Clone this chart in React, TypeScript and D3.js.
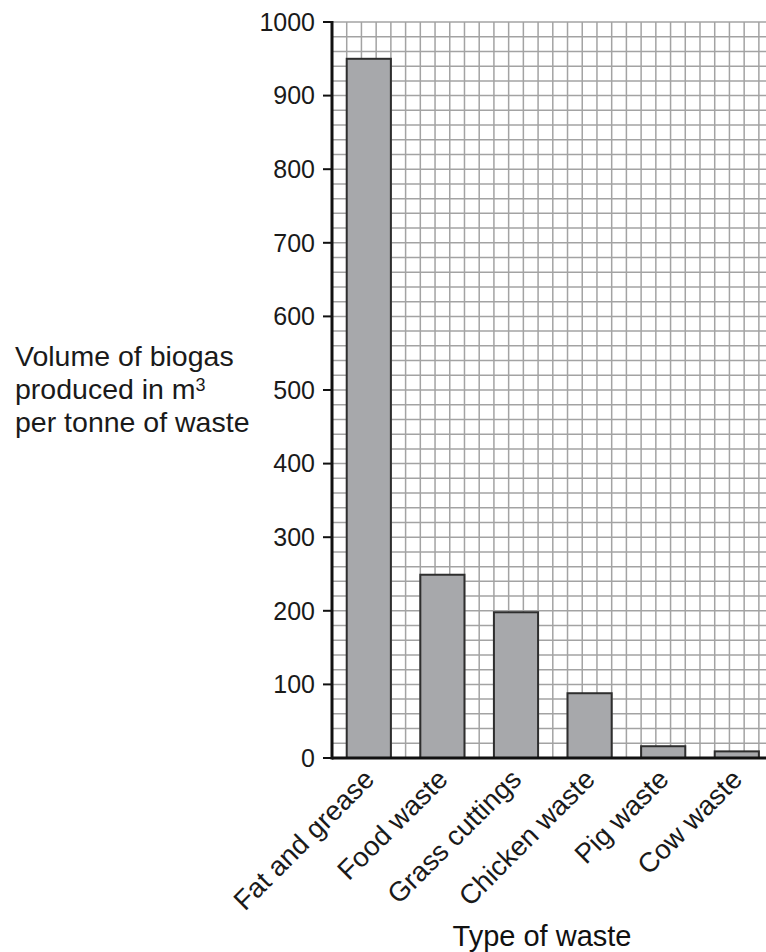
import React from "react";
import * as d3 from "d3";

const categories = ["Fat and grease", "Food waste", "Grass cuttings", "Chicken waste", "Pig waste", "Cow waste"];
const values = [950, 249, 198, 88, 16, 9];
const yTicks = [0, 100, 200, 300, 400, 500, 600, 700, 800, 900, 1000];
const yTitleLines = ["Volume of biogas", "produced in m", "per tonne of waste"];
const xTitle = "Type of waste";

const W = 766;
const H = 952;
const left = 332;
const top = 22;
const bottom = 758;
const cell = 14.72;
const nCols = 30;
const FONT = "'Liberation Sans', Arial, sans-serif";

export default function App() {
  const y = d3.scaleLinear().domain([0, 1000]).range([bottom, top]);
  const gx = d3.scaleLinear().domain([0, nCols]).range([left, left + nCols * cell]);
  const x = d3
    .scaleBand<string>()
    .domain(categories)
    .range([left, left + nCols * cell])
    .paddingInner(0.4)
    .paddingOuter(0.2);

  const hLines = d3.range(0, 1001, 20);
  const vLines = d3.range(1, nCols + 1);

  return (
    <svg
      width={W}
      height={H}
      style={{ position: "absolute", left: 0, top: 0, display: "block", background: "#fff" }}
      fontFamily={FONT}
    >
      {/* grid */}
      <g stroke="#a3a3a3" strokeWidth={1.5}>
        {hLines.map((v) => (
          <line key={"h" + v} x1={left} x2={W} y1={y(v)} y2={y(v)} />
        ))}
        {vLines.map((c) => (
          <line key={"v" + c} x1={gx(c)} x2={gx(c)} y1={top} y2={bottom} />
        ))}
      </g>
      {/* bars */}
      <g>
        {categories.map((c, i) => (
          <rect
            key={c}
            x={x(c)}
            y={y(values[i])}
            width={x.bandwidth()}
            height={bottom - y(values[i])}
            fill="#a7a8ab"
            stroke="#2e2e2e"
            strokeWidth={2}
          />
        ))}
      </g>
      {/* axes */}
      <line x1={left} x2={left} y1={top - 1} y2={bottom + 1.5} stroke="#111" strokeWidth={3} />
      <line x1={left} x2={W} y1={bottom} y2={bottom} stroke="#111" strokeWidth={3} />
      <g>
        {yTicks.map((t) => (
          <g key={t}>
            <line x1={left - 9} x2={left} y1={y(t)} y2={y(t)} stroke="#111" strokeWidth={2} />
            <text
              x={left - 17}
              y={y(t)}
              dy="0.35em"
              textAnchor="end"
              fontSize={25}
              fill="#1a1a1a"
            >
              {t}
            </text>
          </g>
        ))}
      </g>
      {/* category labels */}
      <g>
        {categories.map((c) => {
          const cx = (x(c) as number) + x.bandwidth() / 2 + 7;
          const cy = 781;
          return (
            <text
              key={c}
              transform={`translate(${cx},${cy}) rotate(-45)`}
              textAnchor="end"
              fontSize={27.5}
              fill="#1a1a1a"
            >
              {c}
            </text>
          );
        })}
      </g>
      {/* y title */}
      <g fill="#1a1a1a" fontSize={28.5}>
        <text x={15} y={366}>{yTitleLines[0]}</text>
        <text x={15} y={399}>
          {yTitleLines[1]}
          <tspan fontSize={18} dy={-8}>3</tspan>
        </text>
        <text x={15} y={432}>{yTitleLines[2]}</text>
      </g>
      {/* x title */}
      <text x={542} y={946} textAnchor="middle" fontSize={29} fill="#111">
        {xTitle}
      </text>
    </svg>
  );
}
